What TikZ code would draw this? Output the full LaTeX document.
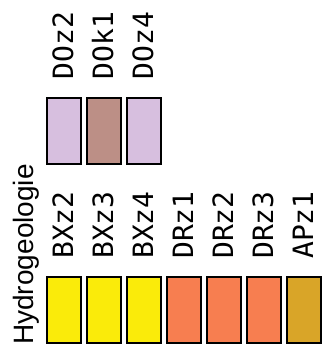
\documentclass[tikz,border=0pt]{standalone}
\usepackage{fontspec}
\setmainfont{Liberation Sans}
\newfontfamily\labfont{DejaVu Sans Mono}
\definecolor{lilac}{HTML}{D7BFDF}
\definecolor{rosy}{HTML}{BC8F86}
\definecolor{yel}{HTML}{FAEB0A}
\definecolor{sal}{HTML}{F77E50}
\definecolor{gold}{HTML}{D9A528}
\tikzset{
  unitbox/.style={draw=black, line width=2pt, minimum width=34pt, minimum height=66pt, inner sep=0pt},
  unitlab/.style={rotate=90, anchor=base west, inner sep=0pt, font=\labfont\fontsize{28}{28}\selectfont},
  titlelab/.style={rotate=90, anchor=base west, inner sep=0pt, font=\fontsize{28}{28}\selectfont}
}
\begin{document}
\begin{tikzpicture}[x=1pt,y=-1pt]
\useasboundingbox (0,0) rectangle (325,356);
% top row
\node[unitbox, fill=lilac] (doz2) at (64,131) {};
\node[unitbox, fill=rosy]  (dok1) at (104,131) {};
\node[unitbox, fill=lilac] (doz4) at (144,131) {};
\node[unitlab] (tdoz2) at (73,79.5) {DOz2};
\node[unitlab] (tdok1) at (113,79.5) {DOk1};
\node[unitlab] (tdoz4) at (153,79.5) {DOz4};
% bottom row
\node[unitbox, fill=yel] (bxz2) at (64,310) {};
\node[unitbox, fill=yel] (bxz3) at (104,310) {};
\node[unitbox, fill=yel] (bxz4) at (144,310) {};
\node[unitbox, fill=sal] (drz1) at (184,310) {};
\node[unitbox, fill=sal] (drz2) at (224,310) {};
\node[unitbox, fill=sal] (drz3) at (264,310) {};
\node[unitbox, fill=gold] (apz1) at (304,310) {};
\node[unitlab] (tbxz2) at (73,259) {BXz2};
\node[unitlab] (tbxz3) at (113,259) {BXz3};
\node[unitlab] (tbxz4) at (153,259) {BXz4};
\node[unitlab] (tdrz1) at (193,259) {DRz1};
\node[unitlab] (tdrz2) at (233,259) {DRz2};
\node[unitlab] (tdrz3) at (273,259) {DRz3};
\node[unitlab] (tapz1) at (313,259) {APz1};
% title
\node[titlelab] (title) at (33,345) {Hydrogeologie};
\end{tikzpicture}
\end{document}
